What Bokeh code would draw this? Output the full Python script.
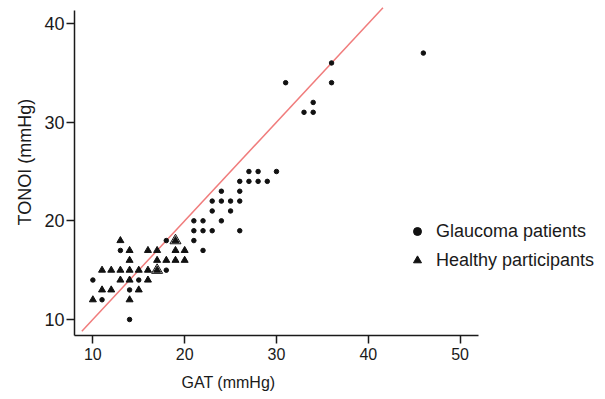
from bokeh.plotting import figure
from bokeh.models import Range1d, FixedTicker, Legend, LegendItem, Title
from bokeh.embed import file_html
from bokeh.resources import INLINE

# Glaucoma patients (GAT, TONOI)
glaucoma_gat = [13, 18, 18, 10, 15, 14, 11, 14,
                21, 22, 24, 21, 22, 23, 26, 21, 22,
                23, 25, 23, 24, 25, 26, 24, 26,
                26, 27, 28, 29, 27, 28, 30,
                33, 34, 34, 31, 36, 36, 46]
glaucoma_tonoi = [17, 18, 15, 14, 14, 13, 12, 10,
                  20, 20, 20, 19, 19, 19, 19, 18, 17,
                  21, 21, 22, 22, 22, 22, 23, 23,
                  24, 24, 24, 24, 25, 25, 25,
                  31, 31, 32, 34, 34, 36, 37]

# Healthy participants (GAT, TONOI)
healthy_gat = [13, 19,
               14, 16, 17, 19, 20,
               14, 17, 18, 19, 20,
               11, 12, 13, 14, 15, 16, 17,
               13, 14, 16,
               11, 12, 15,
               10, 14]
healthy_tonoi = [18, 18,
                 17, 17, 17, 17, 17,
                 16, 16, 16, 16, 16,
                 15, 15, 15, 15, 15, 15, 15,
                 14, 14, 14,
                 13, 13, 13,
                 12, 12]

# overlapping observations (drawn as outlined larger triangles)
overlap_gat = [17, 19]
overlap_tonoi = [15, 18]

# line of identity
ref_x = [8.8, 41.6]
ref_y = [8.8, 41.6]

x_ticks = [10, 20, 30, 40, 50]
y_ticks = [10, 20, 30, 40]
x_axis_bounds = (8, 52)
y_axis_bounds = (8.38, 41.32)

FONT = "Liberation Sans"
INK = "#1a1a1a"

p = figure(width=605, height=399, output_backend="svg", toolbar_location=None,
           x_range=Range1d(8, 65.84), y_range=Range1d(8.38, 42.33),
           min_border_left=74, min_border_right=0,
           min_border_top=0, min_border_bottom=64)

p.grid.visible = False
p.outline_line_color = None
p.background_fill_color = "white"

for ax, ticks, bounds in ((p.xaxis, x_ticks, x_axis_bounds),
                          (p.yaxis, y_ticks, y_axis_bounds)):
    ax.ticker = FixedTicker(ticks=ticks)
    ax.bounds = bounds
    ax.axis_line_color = INK
    ax.axis_line_width = 1.5
    ax.major_tick_line_color = INK
    ax.major_tick_line_width = 1.5
    ax.major_tick_out = 8
    ax.major_tick_in = 0
    ax.minor_tick_line_color = None
    ax.major_label_text_font = FONT
    ax.major_label_text_color = INK

p.xaxis.major_label_text_font_size = "16px"
p.yaxis.major_label_text_font_size = "18px"
p.yaxis.major_label_standoff = 2
p.xaxis.major_label_standoff = 4

p.line(ref_x, ref_y, line_color="#f07c7c", line_width=1.5)

g = p.scatter(glaucoma_gat, glaucoma_tonoi, marker="circle", size=4.5,
              fill_color="#111111", line_color="#111111")
h = p.scatter(healthy_gat, healthy_tonoi, marker="triangle", size=7,
              fill_color="#111111", line_color="#111111")
p.scatter(overlap_gat, overlap_tonoi, marker="triangle", size=11,
          fill_color=None, line_color="#111111", line_width=1)

legend = Legend(items=[LegendItem(label="Glaucoma patients", renderers=[g]),
                       LegendItem(label="Healthy participants", renderers=[h])],
                location=(333, 63), orientation="vertical",
                padding=0, margin=0, spacing=5,
                glyph_width=20, glyph_height=24, label_height=24,
                label_standoff=9, label_text_font=FONT,
                label_text_font_size="18px", label_text_color=INK,
                border_line_color=None, background_fill_alpha=0)
p.add_layout(legend)

p.add_layout(Title(text="GAT (mmHg)", align="left", offset=107,
                   text_font=FONT, text_font_size="16px",
                   text_font_style="normal", text_color=INK, standoff=18),
             "below")
p.add_layout(Title(text="TONOI (mmHg)", align="left", offset=110,
                   text_font=FONT, text_font_size="18px",
                   text_font_style="normal", text_color=INK, standoff=14),
             "left")

open("out.html", "w").write(file_html(p, INLINE))
